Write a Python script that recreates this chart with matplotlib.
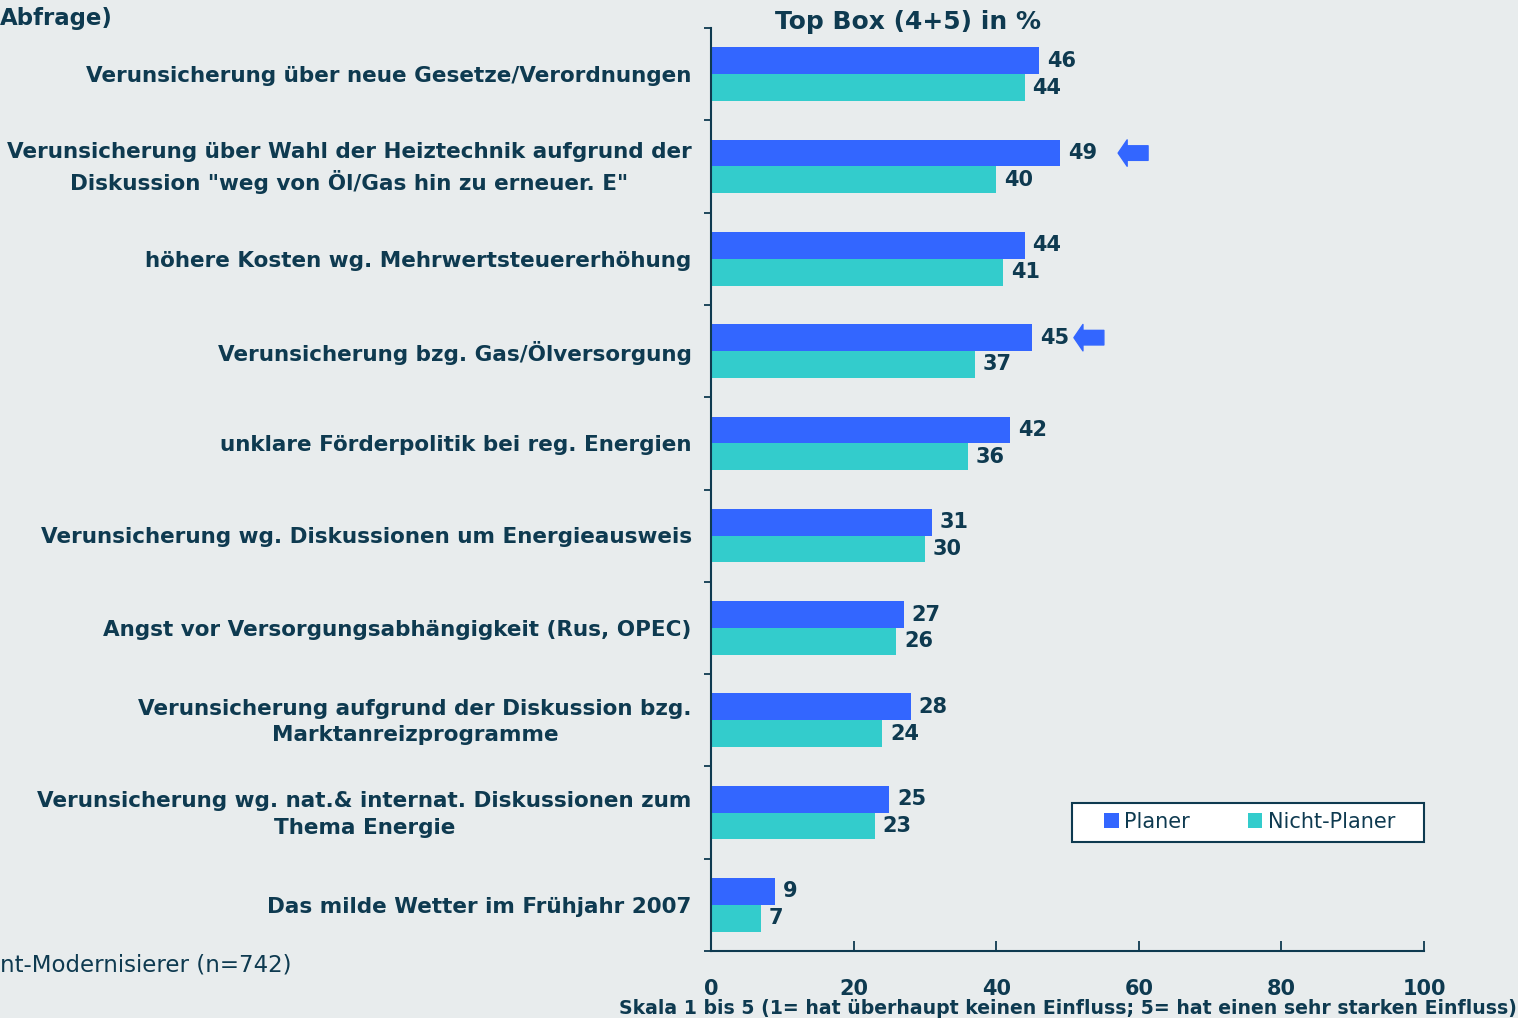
import matplotlib.pyplot as plt
import numpy as np
from matplotlib.patches import Rectangle

plt.rcParams['font.family'] = ['DejaVu Sans']

categories = [
    'Verunsicherung über neue Gesetze/Verordnungen',
    'Verunsicherung über Wahl der Heiztechnik aufgrund der\nDiskussion "weg von Öl/Gas hin zu erneuer. E"',
    'höhere Kosten wg. Mehrwertsteuererhöhung',
    'Verunsicherung bzg. Gas/Ölversorgung',
    'unklare Förderpolitik bei reg. Energien',
    'Verunsicherung wg. Diskussionen um Energieausweis',
    'Angst vor Versorgungsabhängigkeit (Rus, OPEC)',
    'Verunsicherung aufgrund der Diskussion bzg.\nMarktanreizprogramme',
    'Verunsicherung wg. nat.& internat. Diskussionen zum\nThema Energie',
    'Das milde Wetter im Frühjahr 2007',
]
planer = [46, 49, 44, 45, 42, 31, 27, 28, 25, 9]
nicht_planer = [44, 40, 41, 37, 36, 30, 26, 24, 23, 7]
arrow_rows = [1, 3]  # Planer-Balken mit Pfeil
arrow_gap = [12.3, 10.1]

bg = '#E8ECED'
txt = '#0E3A50'
c_planer = '#3366FF'
c_nicht = '#33CCCC'

fig = plt.figure(figsize=(15.18, 10.18), dpi=100, facecolor=bg)
ax = fig.add_axes([711 / 1518, 67 / 1018, 713 / 1518, 923 / 1018])
ax.set_facecolor(bg)

y = np.arange(len(categories)) + 0.5
h = 0.29
ax.barh(y - h / 2, planer, height=h, color=c_planer, label='Planer')
ax.barh(y + h / 2, nicht_planer, height=h, color=c_nicht, label='Nicht-Planer')

for yi, v in zip(y - h / 2, planer):
    ax.text(v + 1.1, yi, str(v), va='center', ha='left', fontsize=15,
            fontweight='bold', color=txt)
for yi, v in zip(y + h / 2, nicht_planer):
    ax.text(v + 1.1, yi, str(v), va='center', ha='left', fontsize=15,
            fontweight='bold', color=txt)

# Pfeile
for i, g in zip(arrow_rows, arrow_gap):
    start = planer[i] + g
    ax.annotate('', xy=(start - 4.2, y[i] - h / 2), xytext=(start, y[i] - h / 2),
                arrowprops=dict(arrowstyle='simple,head_length=0.65,head_width=1.9,tail_width=1.05',
                                mutation_scale=10, color=c_planer, shrinkA=0, shrinkB=0))

# Kategorien
for yi, lab in zip(y, categories):
    ax.text(-0.027, yi + 0.02, lab, transform=ax.get_yaxis_transform(), ha='right',
            va='center', multialignment='center', fontsize=15.5,
            fontweight='bold', color=txt, linespacing=1.4)

ax.set_xlim(0, 100)
ax.set_ylim(len(categories), 0)
ax.set_xticks([0, 20, 40, 60, 80, 100])
ax.set_yticks(np.arange(len(categories) + 1))
ax.set_yticklabels([])
ax.tick_params(axis='y', direction='out', length=5, width=1.3, color=txt)
ax.tick_params(axis='x', direction='in', length=7, width=1.3, color=txt,
               pad=20, labelsize=15, labelcolor=txt)
for lbl in ax.get_xticklabels():
    lbl.set_fontweight('bold')

for s in ['top', 'right']:
    ax.spines[s].set_visible(False)
for s in ['left', 'bottom']:
    ax.spines[s].set_color(txt)
    ax.spines[s].set_linewidth(1.5)

ax.set_xlabel('Skala 1 bis 5 (1= hat überhaupt keinen Einfluss; 5= hat einen sehr starken Einfluss)',
              fontsize=13.6, fontweight='bold', color=txt, labelpad=0)

fig.text(908 / 1518, 1 - 22 / 1018, 'Top Box (4+5) in %', ha='center', va='center',
         fontsize=18, fontweight='bold', color=txt)
fig.text(0, 1 - 18 / 1018, 'Abfrage)', ha='left', va='center', fontsize=16.5,
         fontweight='bold', color=txt)
fig.text(0, 1 - 965 / 1018, 'nt-Modernisierer (n=742)', ha='left', va='center',
         fontsize=16.5, color=txt)

# Legendenrahmen
fig.patches.append(Rectangle((1072 / 1518, 1 - 842 / 1018), 352 / 1518, 39 / 1018,
                             transform=fig.transFigure, facecolor='white',
                             edgecolor=txt, linewidth=1.5, zorder=1))
handles, labels = ax.get_legend_handles_labels()
leg = fig.legend(handles, labels, loc='center left',
                 bbox_to_anchor=(1104 / 1518, 1 - 822 / 1018),
                 fontsize=15, frameon=False, ncol=2, handlelength=0.7,
                 handleheight=0.7, handletextpad=0.25, columnspacing=2.8,
                 borderpad=0, borderaxespad=0)
for t in leg.get_texts():
    t.set_color(txt)

plt.savefig('out.png', dpi=100, facecolor=bg)
